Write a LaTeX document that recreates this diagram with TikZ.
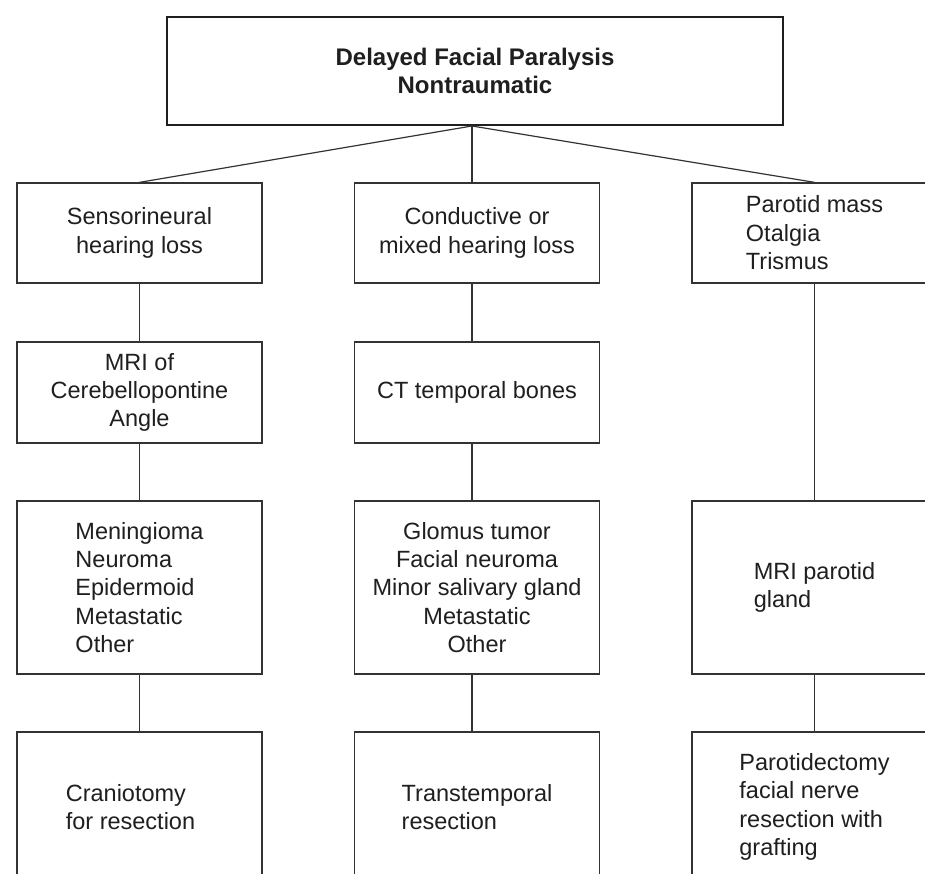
\documentclass[tikz,border=0pt]{standalone}
\usepackage{fontspec}
\setmainfont{Liberation Sans}
\begin{document}
\begin{tikzpicture}[x=1pt,y=-1pt,
  txt/.style={font=\fontsize{23.5}{28.4}\selectfont, text=black!88},
  box/.style={txt, draw=black!80, line width=1.3pt, inner sep=0pt,
    minimum width=245pt},
  headbox/.style={draw=black!88, line width=2pt, inner sep=0pt,
    minimum width=616pt, minimum height=108pt, align=center,
    font=\fontsize{24}{28}\selectfont\bfseries, text=black!88},
  endbox/.style={box, line width=1.8pt, minimum height=150pt, align=left},
  link/.style={draw=black!80, line width=1.2pt}]
\useasboundingbox (0,0) rectangle (925,874);
\fill[white] (0,0) rectangle (925,874);
\clip (0,0) rectangle (925,874);

% spine of the middle column
\coordinate (spine) at (472,0);

% title
\node[headbox] (top) at (475,71) {Delayed Facial Paralysis\\Nontraumatic};

% first row: presenting findings
\node[box, minimum height=100pt, align=center] (l1) at (139.5,233)
  {Sensorineural\\hearing loss};
\node[box, minimum height=100pt, align=center] (m1) at (477,233)
  {Conductive or\\mixed hearing loss};
\node[box, minimum height=100pt, align=left] (r1) at (814.5,233)
  {Parotid mass\\Otalgia\\Trismus};

% second row: imaging
\node[box, minimum height=101pt, align=center] (l2) at (139.5,392.5)
  {MRI of\\Cerebellopontine\\Angle};
\node[box, minimum height=101pt, align=center] (m2) at (477,392.5)
  {CT temporal bones};

% third row: differential / imaging
\node[box, minimum height=173pt, align=left] (l3) at (139.5,587.5)
  {Meningioma\\Neuroma\\Epidermoid\\Metastatic\\Other};
\node[box, minimum height=173pt, align=center] (m3) at (477,587.5)
  {Glomus tumor\\Facial neuroma\\Minor salivary gland\\Metastatic\\Other};
\node[box, minimum height=173pt, align=left] (r3) at (814.5,587.5)
  {MRI parotid\\gland};

% fourth row: treatment
\node[endbox] (l4) at (139.5,807) {Craniotomy\\for resection\hspace*{18pt}};
\node[endbox] (m4) at (477,807) {Transtemporal\\resection};
\node[endbox] (r4) at (814.5,807)
  {Parotidectomy\\facial nerve\\resection with\\grafting};

% connectors
\draw[link] (top.south -| spine) -- (l1.north);
\draw[link] (top.south -| spine) -- (m1.north -| spine);
\draw[link] (top.south -| spine) -- (r1.north);

\draw[link] (l1) -- (l2);
\draw[link] (l2) -- (l3);
\draw[link] (l3) -- (l4);

\draw[link] (m1.south -| spine) -- (m2.north -| spine);
\draw[link] (m2.south -| spine) -- (m3.north -| spine);
\draw[link] (m3.south -| spine) -- (m4.north -| spine);

\draw[link] (r1) -- (r3);
\draw[link] (r3) -- (r4);
\end{tikzpicture}
\end{document}
